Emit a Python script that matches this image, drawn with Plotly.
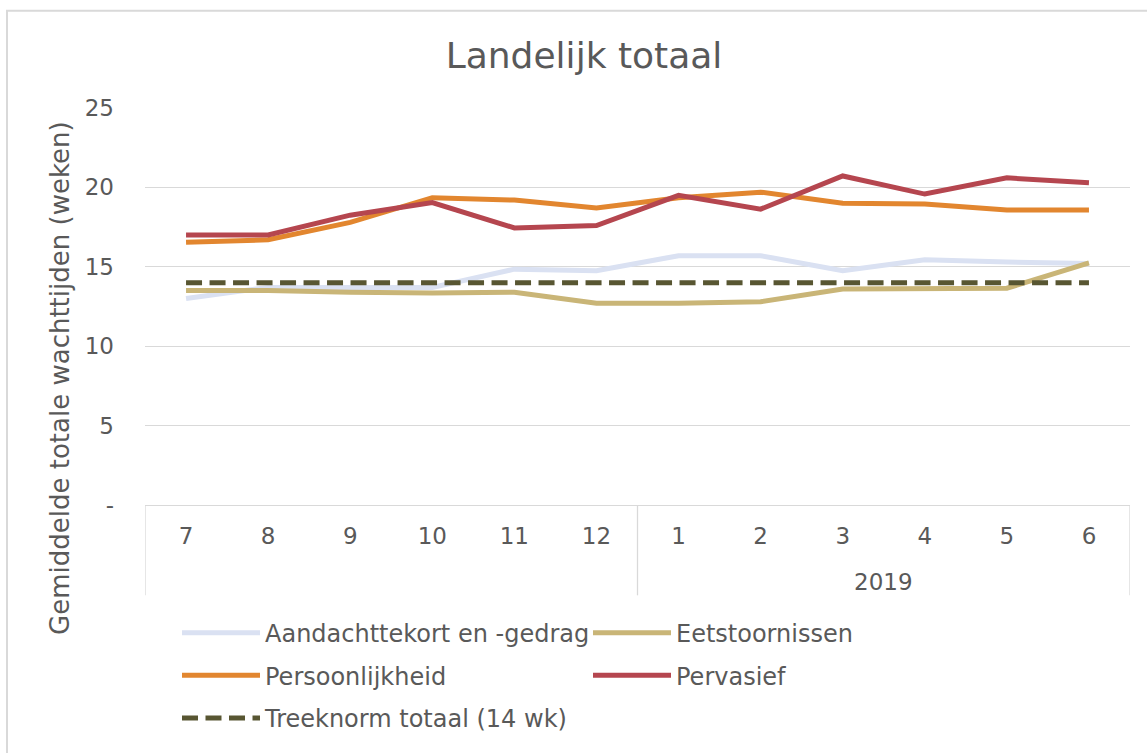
import plotly.graph_objects as go

# ---- data ----
months = ["7", "8", "9", "10", "11", "12", "1", "2", "3", "4", "5", "6"]
groups = ["", "2019"]           # group label per half-year block
group_sizes = [6, 6]

aandacht = [13.0, 13.7, 13.7, 13.7, 14.85, 14.75, 15.7, 15.7, 14.75, 15.45, 15.3, 15.2]
eetstoornissen = [13.5, 13.5, 13.4, 13.35, 13.4, 12.7, 12.7, 12.8, 13.6, 13.65, 13.65, 15.25]
persoonlijkheid = [16.55, 16.7, 17.8, 19.35, 19.2, 18.7, 19.35, 19.7, 19.0, 18.95, 18.57, 18.57]
pervasief = [17.0, 17.0, 18.25, 19.05, 17.45, 17.6, 19.5, 18.63, 20.72, 19.58, 20.6, 20.3]
treeknorm = [14] * 12

series_names = ["Aandachttekort en -gedrag", "Eetstoornissen", "Persoonlijkheid",
                "Pervasief", "Treeknorm totaal (14 wk)"]
y_tickvals = [0, 5, 10, 15, 20, 25]
y_ticktext = ["-", "5", "10", "15", "20", "25"]

colors = ["#DAE1F2", "#C9B577", "#E2862F", "#B5464F", "#585632"]
legend_ids = ["legend", "legend", "legend2", "legend2", "legend3"]

FONT = "DejaVu Sans"
GREY = "#595959"
GRID = "#D9D9D9"

W, H = 1147, 753
L, R, T, B = 145, 1130, 108, 508


def px_x(p):
    return (p - L) / (R - L)


def px_y(p):
    return (B - p) / (B - T)


fig = go.Figure()
all_series = [aandacht, eetstoornissen, persoonlijkheid, pervasief, treeknorm]
for name, vals, col, lg in zip(series_names, all_series, colors, legend_ids):
    dash = "16px,7.5px" if name.startswith("Treeknorm") else "solid"
    fig.add_trace(go.Scatter(
        x=months, y=vals, name=name, mode="lines", legend=lg,
        line=dict(color=col, width=5, dash=dash),
    ))

leg_common = dict(orientation="h", xanchor="left", yanchor="middle",
                  entrywidth=318, entrywidthmode="pixels", itemwidth=78,
                  font=dict(family=FONT, size=24, color=GREY),
                  traceorder="normal", bgcolor="rgba(0,0,0,0)")

fig.update_layout(
    width=W, height=H,
    margin=dict(l=L, r=W - R, t=T, b=H - B, pad=0),
    paper_bgcolor="white", plot_bgcolor="white",
    font=dict(family=FONT, color=GREY, size=23),
    title=dict(text="Landelijk totaal", x=px_x(584), xanchor="center", xref="paper",
               y=1 - 55 / H, yanchor="middle",
               font=dict(family=FONT, size=36, color=GREY)),
    showlegend=True,
    legend=dict(x=px_x(177), y=px_y(637), **leg_common),
    legend2=dict(x=px_x(177), y=px_y(680), **leg_common),
    legend3=dict(x=px_x(177), y=px_y(723), **leg_common),
    xaxis=dict(type="category", showgrid=False, ticks="",
               range=[-0.5, len(months) - 0.5],
               showline=True, linecolor=GRID, linewidth=1.3,
               ticklabelstandoff=10,
               tickfont=dict(family=FONT, size=23, color=GREY)),
    yaxis=dict(range=[0, 25], tickvals=y_tickvals, ticktext=y_ticktext,
               showgrid=True, gridcolor=GRID, gridwidth=1.3, zeroline=False,
               showline=False, ticks="", ticklabelstandoff=30,
               tickfont=dict(family=FONT, size=23, color=GREY)),
)

# group dividers and group labels below the month labels
start = 0
bounds = [-0.5]
for g, n in zip(groups, group_sizes):
    mid = start + (n - 1) / 2
    if g:
        fig.add_annotation(text=g, xref="x", yref="paper", x=mid, y=px_y(586),
                           xanchor="center", yanchor="middle", showarrow=False,
                           font=dict(family=FONT, size=23, color=GREY))
    start += n
    bounds.append(start - 0.5)
for b in bounds:
    fig.add_shape(type="line", xref="x", yref="paper", x0=b, x1=b,
                  y0=px_y(599), y1=0, line=dict(color=GRID, width=1.3))

fig.add_annotation(text="Gemiddelde totale wachttijden (weken)", textangle=-90,
                   xref="paper", yref="paper", x=px_x(60), y=px_y(380),
                   xanchor="center", yanchor="middle", showarrow=False,
                   font=dict(family=FONT, size=26, color=GREY))

# outer chart border (only left/top visible in the cropped reference)
fig.add_shape(type="rect", xref="paper", yref="paper",
              x0=px_x(7), y0=px_y(800), x1=px_x(1200), y1=px_y(10),
              line=dict(color=GRID, width=2), fillcolor="rgba(0,0,0,0)", layer="below")

fig.write_html(
    "out.html",
    config={"displayModeBar": False},
    post_script="document.body.style.margin='0';document.body.style.overflow='hidden';",
)
